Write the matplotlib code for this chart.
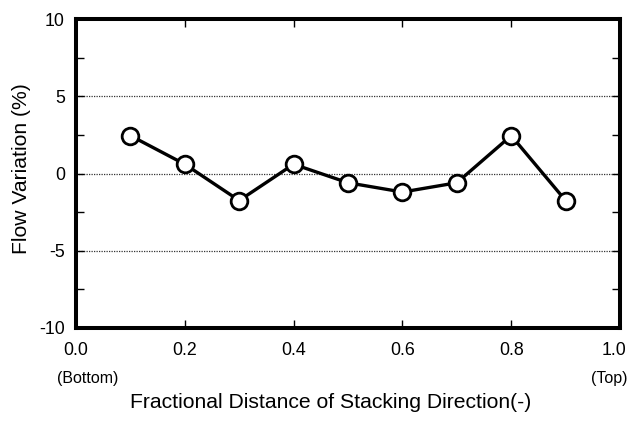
import matplotlib
matplotlib.use("Agg")
import matplotlib.pyplot as plt
from matplotlib.ticker import MultipleLocator
from matplotlib.transforms import ScaledTranslation

plt.rcParams['font.family'] = ['Liberation Sans', 'DejaVu Sans']
plt.rcParams['axes.unicode_minus'] = False

x_vals = [0.1, 0.2, 0.3, 0.4, 0.5, 0.6, 0.7, 0.8, 0.9]
flow_var = [2.45, 0.6, -1.75, 0.6, -0.6, -1.2, -0.6, 2.45, -1.75]
x_ticks = [0.0, 0.2, 0.4, 0.6, 0.8, 1.0]
x_tick_labels = ["0.0", "0.2", "0.4", "0.6", "0.8", "1.0"]
y_ticks = [-10, -5, 0, 5, 10]
grid_levels = [-5, 0, 5]

W, H = 629, 422
fig = plt.figure(figsize=(W/100, H/100), dpi=100)
ax = fig.add_axes([76/W, 1 - 328/H, (620-76)/W, (328-19)/H])

for g in grid_levels:
    ax.axhline(g, color='#333333', linestyle=(0, (1, 1)), linewidth=0.9, zorder=1)

ax.plot(x_vals, flow_var, color='black', linewidth=2.4, marker='o',
        markersize=12, markerfacecolor='white', markeredgecolor='black',
        markeredgewidth=2.0, zorder=3, clip_on=False)

ax.set_xlim(0, 1)
ax.set_ylim(-10, 10)
ax.set_xticks(x_ticks)
ax.set_xticklabels(x_tick_labels)
ax.set_yticks(y_ticks)
ax.yaxis.set_minor_locator(MultipleLocator(2.5))
ax.tick_params(axis='both', which='both', direction='in', top=True, right=True,
               length=6, width=1, labelsize=12.8)
ax.tick_params(axis='y', pad=8)
ax.tick_params(axis='x', pad=10)
for s in ax.spines.values():
    s.set_linewidth(2.9)

# shift the last x tick label slightly left (it sits at the image edge)
last = ax.get_xticklabels()[-1]
last.set_transform(last.get_transform() + ScaledTranslation(-6/100, 0, fig.dpi_scale_trans))

fig.text(22/W, 1 - 169/H, "Flow Variation (%)", rotation=90, ha='center', va='center',
         fontsize=15.2)
fig.text(331/W, 1 - 403/H, "Fractional Distance of Stacking Direction(-)",
         ha='center', va='center', fontsize=15.2)
fig.text(57/W, 1 - 379/H, "(Bottom)", ha='left', va='center', fontsize=11.5)
fig.text(628/W, 1 - 379/H, "(Top)", ha='right', va='center', fontsize=11.5)

fig.savefig("out.png", dpi=100)
